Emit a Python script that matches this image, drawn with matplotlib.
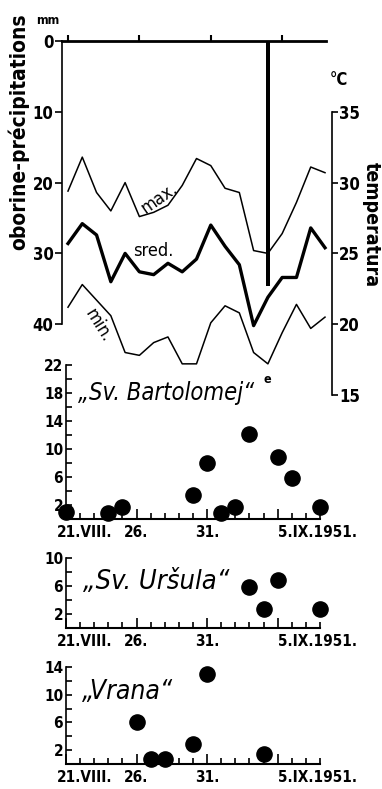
import matplotlib
matplotlib.use("Agg")
import matplotlib.pyplot as plt
import matplotlib.transforms as mtrans

plt.rcParams['font.family'] = ['Liberation Sans Narrow', 'DejaVu Sans']
plt.rcParams['font.stretch'] = 'condensed'

# days counted from 21.VIII.1951 (0) to 8.IX.1951 (18)
days = list(range(19))
t_max = [29.4, 31.8, 29.3, 28.0, 30.0, 27.6, 27.9, 28.4, 29.8, 31.7, 31.2, 29.6,
         29.3, 25.2, 25.0, 26.4, 28.6, 31.1, 30.7]
t_mean = [25.7, 27.1, 26.3, 23.0, 25.0, 23.7, 23.5, 24.3, 23.7, 24.6, 27.0, 25.5,
          24.2, 19.9, 21.9, 23.3, 23.3, 26.8, 25.4]
t_min = [21.2, 22.8, 21.7, 20.6, 18.0, 17.8, 18.7, 19.1, 17.2, 17.2, 20.1, 21.3,
         20.8, 18.0, 17.2, 19.4, 21.4, 19.7, 20.5]

rain_days = [14]
rain_mm = [34.6]

bart_days = [0, 3, 4, 9, 10, 11, 12, 13, 15, 16, 18]
bart_vals = [1.0, 0.9, 1.7, 3.5, 8.0, 0.9, 1.7, 12.1, 8.8, 5.8, 1.7]

urs_days = [13, 14, 15, 18]
urs_vals = [5.9, 2.7, 6.9, 2.7]

vrana_days = [5, 6, 7, 9, 10, 14]
vrana_vals = [6.1, 0.7, 0.7, 2.9, 13.0, 1.4]

x_ticks = [0, 5, 10, 15]
x_labels = ["21.VIII.", "26.", "31.", "5.IX.1951."]

W, H = 382, 789
fig = plt.figure(figsize=(W / 100, H / 100), dpi=100)


def box(l, t, r, b):
    return [l / W, 1 - b / H, (r - l) / W, (b - t) / H]


# ---- top panel: precipitation + temperature
ax = fig.add_axes(box(62, 41, 332, 395))
ax.set_xlim(-0.42, 18.49)
ax.set_ylim(50, 0)
ax.bar(rain_days, rain_mm, width=0.32, color="black")
for s in ["right", "bottom"]:
    ax.spines[s].set_visible(False)
ax.spines["left"].set_bounds(0, 40)
ax.spines["left"].set_linewidth(1.2)
ax.spines["top"].set_bounds(-0.42, 18.1)
ax.spines["top"].set_linewidth(2)
ax.set_yticks([0, 10, 20, 30, 40])
ax.tick_params(axis="y", direction="out", length=5, width=1.2, pad=1, labelsize=12)
ax.xaxis.tick_top()
ax.set_xticks([0, 5, 10, 15])
ax.tick_params(axis="x", direction="out", length=4, width=1.5, labeltop=False)
for lab in ax.get_yticklabels():
    lab.set_fontweight("bold")

ax2 = ax.twinx()
ax2.set_ylim(15, 40)
for s in ["left", "top", "bottom"]:
    ax2.spines[s].set_visible(False)
ax2.spines["right"].set_bounds(15, 35)
ax2.spines["right"].set_linewidth(1.2)
ax2.set_yticks([15, 20, 25, 30, 35])
ax2.tick_params(axis="y", direction="out", length=4, width=1.2, pad=1, labelsize=12)
for lab in ax2.get_yticklabels():
    lab.set_fontweight("bold")

ax2.plot(days, t_max, color="black", lw=1.1)
ax2.plot(days, t_mean, color="black", lw=2.4)
ax2.plot(days, t_min, color="black", lw=1.1)

ax2.text(6.4, 28.9, "max.", rotation=35, ha="center", va="center", fontsize=13)
ax2.text(6.0, 25.2, "sred.", ha="center", va="center", fontsize=13)
ax2.text(2.1, 19.9, "min.", rotation=-58, ha="center", va="center", fontsize=13)

fig.text(48 / W, 1 - 20 / H, "mm", fontsize=9, fontweight="bold", ha="center", va="center")
fig.text(339 / W, 1 - 80 / H, "°C", fontsize=12, fontweight="bold", ha="center", va="center")
fig.text(19 / W, 1 - 132 / H, "oborine-précipitations", rotation=90, fontsize=15,
         fontweight="bold", ha="center", va="center")
fig.text(371 / W, 1 - 225 / H, "temperatura", rotation=270, fontsize=14,
         fontweight="bold", ha="center", va="center")


# ---- bottom panels: daily counts
def count_panel(top, bottom, ymax, majors, minors, d, v, title, tx, ty, tsize):
    a = fig.add_axes(box(66, top, 320, bottom))
    a.set_xlim(0, 18)
    a.set_ylim(0, ymax)
    for s in ["right", "top"]:
        a.spines[s].set_visible(False)
    a.spines["left"].set_linewidth(1.2)
    a.spines["bottom"].set_linewidth(1.5)
    a.scatter(d, v, s=120, color="black", clip_on=False, zorder=3)
    a.set_yticks(majors)
    a.set_yticks(minors, minor=True)
    a.tick_params(axis="y", which="both", direction="in", length=4, width=1.2,
                  pad=2, labelsize=11)
    a.set_xticks(x_ticks)
    a.set_xticklabels(x_labels)
    a.set_xticks([i for i in range(1, 19) if i not in x_ticks], minor=True)
    a.tick_params(axis="x", which="major", direction="in", length=7, width=1.2,
                  pad=4, labelsize=11)
    a.tick_params(axis="x", which="minor", direction="in", length=4, width=1.2)
    labs = a.get_xticklabels()
    labs[0].set_ha("left")
    labs[0].set_transform(labs[0].get_transform() +
                          mtrans.ScaledTranslation(-0.09, 0, fig.dpi_scale_trans))
    labs[3].set_ha("left")
    for lab in labs + a.get_yticklabels():
        lab.set_fontweight("bold")
    a.text(tx, ty, title, style="italic", fontsize=tsize, ha="left", va="center")
    return a


b1 = count_panel(365, 519, 22, [2, 6, 10, 14, 18, 22], [4, 8, 12, 16, 20],
                 bart_days, bart_vals, "\u201eSv. Bartolomej\u201c", 0.85, 18.0, 17)
b1.text(14.3, 19.9, "e", fontsize=9, fontweight="bold", ha="center", va="center")
count_panel(558, 628, 10, [2, 6, 10], [4, 8],
            urs_days, urs_vals, "\u201eSv. Uršula\u201c", 1.2, 6.6, 19.5)
count_panel(667, 764, 14, [2, 6, 10, 14], [4, 8, 12],
            vrana_days, vrana_vals, "\u201eVrana\u201c", 1.1, 10.4, 19)

fig.savefig("out.png", dpi=100)
